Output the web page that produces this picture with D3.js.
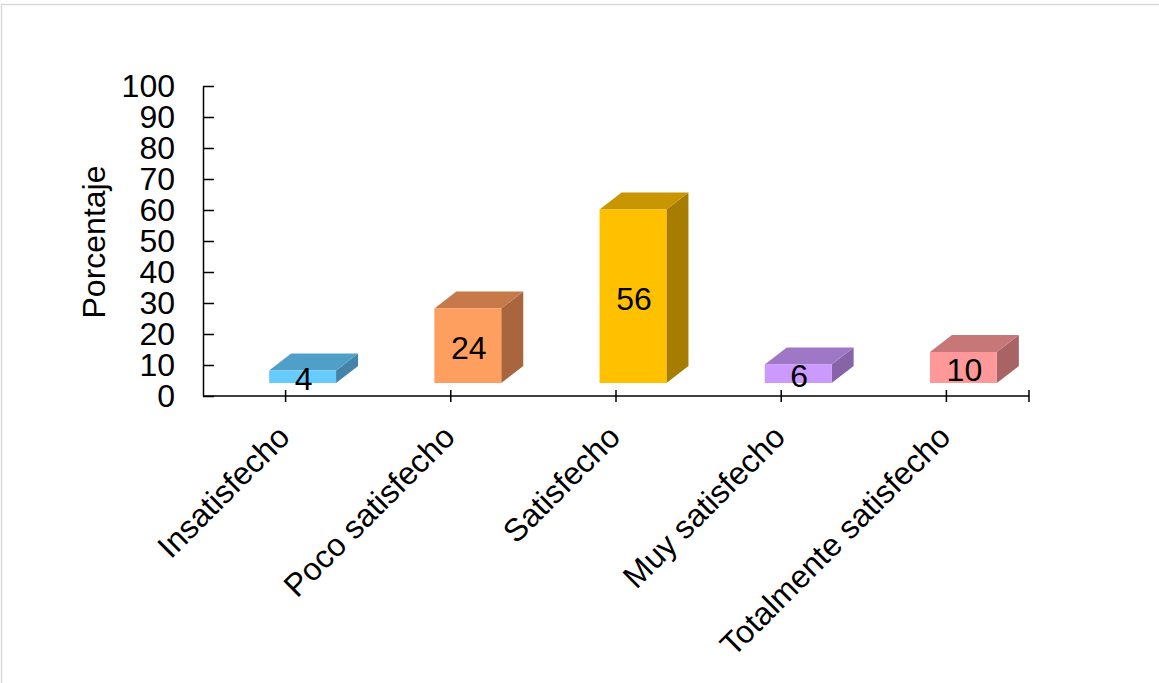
<!DOCTYPE html>
<html>
<head>
<meta charset="utf-8">
<script src="https://cdn.jsdelivr.net/npm/d3@7"></script>
<style>
  html, body { margin: 0; padding: 0; background: #fff; }
  svg { display: block; }
  text { font-family: "Liberation Sans", Arial, sans-serif; fill: #000; }
</style>
</head>
<body>
<svg id="chart" width="1159" height="683"></svg>
<script>
// Satisfaction survey results (percent)
const categories = ["Insatisfecho", "Poco satisfecho", "Satisfecho", "Muy satisfecho", "Totalmente satisfecho"];
const values = [4, 24, 56, 6, 10];
const yTicks = [0, 10, 20, 30, 40, 50, 60, 70, 80, 90, 100];
const yTitle = "Porcentaje";

// face colours for each column: front, top, side
const frontColors = ["#66ccff", "#ff9f5f", "#ffc000", "#cc99ff", "#ff9999"];
const topColors   = ["#4f9fc8", "#c8794a", "#c89600", "#9f77c7", "#c77777"];
const sideColors  = ["#4384a8", "#a8653e", "#a67d00", "#8764a8", "#a86464"];

const FONT = "32px";

const svg = d3.select("#chart");

// outer frame
svg.append("rect")
  .attr("x", 1.5).attr("y", 4.5)
  .attr("width", 1170).attr("height", 700)
  .attr("fill", "none").attr("stroke", "#d9d9d9").attr("stroke-width", 1.5);

const plot = { left: 203, right: 1029, top: 86, bottom: 396 };

const x = d3.scaleBand().domain(categories).range([plot.left, plot.right]).padding(0);
const y = d3.scaleLinear().domain([0, 100]).range([plot.bottom, plot.top]);

// 3D geometry: front face lifted off the floor, plus depth vector
const bw = x.bandwidth();
const barW = bw * 0.405;
const frontShift = { dx: 17, dy: -13 };
const depth = { dx: 22, dy: -17 };

// Y axis with inward ticks
const yAxis = d3.axisLeft(y).tickValues(yTicks).tickSizeInner(-11).tickSizeOuter(0).tickPadding(28);
const gy = svg.append("g").attr("transform", `translate(${plot.left},0)`).call(yAxis);
gy.select(".domain").attr("stroke", "#000").attr("stroke-width", 1.5);
gy.selectAll(".tick line").attr("stroke", "#000").attr("stroke-width", 1.5);
gy.selectAll(".tick text").style("font-size", FONT).attr("fill", "#000")
  .style("font-family", '"Liberation Sans", Arial, sans-serif');

// X axis line with ticks at category centres and the far end
svg.append("line")
  .attr("x1", plot.left).attr("x2", plot.right)
  .attr("y1", y(0)).attr("y2", y(0))
  .attr("stroke", "#000").attr("stroke-width", 1.5);
const xTickPos = categories.map(c => x(c) + bw / 2).concat([x.range()[1]]);
svg.selectAll("line.xtick").data(xTickPos).enter().append("line")
  .attr("class", "xtick")
  .attr("x1", d => d).attr("x2", d => d)
  .attr("y1", y(0) - 6).attr("y2", y(0) + 6)
  .attr("stroke", "#000").attr("stroke-width", 1.5);

// category labels, rotated
svg.selectAll("text.cat").data(categories).enter().append("text")
  .attr("class", "cat")
  .attr("transform", d => `translate(${x(d) + bw / 2 + 6},${y(0) + 43}) rotate(-45)`)
  .attr("text-anchor", "end")
  .style("font-size", FONT)
  .text(d => d);

// axis title
svg.append("text")
  .attr("transform", `translate(105,242) rotate(-90)`)
  .attr("text-anchor", "middle")
  .style("font-size", FONT)
  .text(yTitle);

// 3D columns
const bars = categories.map((c, i) => {
  const x0 = x(c) + bw / 2 - barW / 2 + frontShift.dx;
  const yb = y(0) + frontShift.dy;
  const yt = y(values[i]) + frontShift.dy;
  return { c, i, v: values[i], x0, x1: x0 + barW, yb, yt };
});

const g = svg.append("g");
bars.forEach(b => {
  const poly = pts => pts.map(p => p.join(",")).join(" ");
  // side face
  g.append("polygon")
    .attr("points", poly([[b.x1, b.yt], [b.x1 + depth.dx, b.yt + depth.dy], [b.x1 + depth.dx, b.yb + depth.dy], [b.x1, b.yb]]))
    .attr("fill", sideColors[b.i]);
  // top face
  g.append("polygon")
    .attr("points", poly([[b.x0, b.yt], [b.x1, b.yt], [b.x1 + depth.dx, b.yt + depth.dy], [b.x0 + depth.dx, b.yt + depth.dy]]))
    .attr("fill", topColors[b.i]);
  // front face
  g.append("rect")
    .attr("x", b.x0).attr("y", b.yt)
    .attr("width", barW).attr("height", b.yb - b.yt)
    .attr("fill", frontColors[b.i]);
  // value label
  g.append("text")
    .attr("x", (b.x0 + b.x1) / 2 + 1)
    .attr("y", (b.yt + b.yb) / 2 + 2)
    .attr("text-anchor", "middle")
    .attr("dy", "0.36em")
    .style("font-size", FONT)
    .text(b.v);
});
</script>
</body>
</html>
